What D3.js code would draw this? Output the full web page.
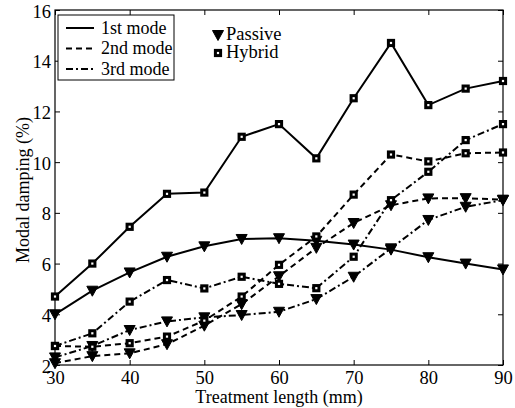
<!DOCTYPE html>
<html><head><meta charset="utf-8">
<script src="https://cdn.jsdelivr.net/npm/d3@7"></script>
<style>body{margin:0;background:#fff}svg{display:block}</style>
</head><body>
<svg id="c" width="515" height="408"></svg>
<script>
const lengths = [30,35,40,45,50,55,60,65,70,75,80,85,90];
const mode1Hybrid  = [4.7,6.0,7.45,8.75,8.8,11.0,11.5,10.15,12.52,14.7,12.25,12.9,13.2];
const mode1Passive = [4.0,4.93,5.65,6.27,6.68,6.97,7.0,6.9,6.75,6.55,6.25,6.0,5.77];
const mode2Hybrid  = [2.75,2.72,2.86,3.12,3.75,4.7,5.95,7.07,8.72,10.3,10.03,10.35,10.38];
const mode2Passive = [2.07,2.35,2.46,2.82,3.55,4.4,5.5,6.62,7.6,8.3,8.57,8.58,8.52];
const mode3Hybrid  = [2.75,3.25,4.5,5.35,5.02,5.48,5.2,5.03,6.27,8.5,9.62,10.87,11.5];
const mode3Passive = [2.3,2.75,3.38,3.72,3.88,3.97,4.1,4.6,5.48,6.6,7.72,8.24,8.5];
const xTicks = [30,40,50,60,70,80,90];
const yTicks = [2,4,6,8,10,12,14,16];
const modeNames = ["1st mode","2nd mode","3rd mode"];
const typeNames = ["Passive","Hybrid"];
const dashes = [null,"6,4","7,3,2,3"];
const FONT = '"Liberation Serif"';

const svg = d3.select("#c");
const L=55,R=503,T=10,B=365;
const x = d3.scaleLinear().domain([30,90]).range([L,R]);
const y = d3.scaleLinear().domain([2,16]).range([B,T]);

svg.append("rect").attr("x",L).attr("y",T).attr("width",R-L).attr("height",B-T)
  .attr("fill","none").attr("stroke","#000").attr("stroke-width",1.2);

const tl=5;
const gx=svg.append("g").attr("transform",`translate(0,${B})`)
  .call(d3.axisBottom(x).tickValues(xTicks).tickSize(-tl));
const gxt=svg.append("g").attr("transform",`translate(0,${T})`)
  .call(d3.axisTop(x).tickValues(xTicks).tickSize(-tl).tickFormat(""));
const gy=svg.append("g").attr("transform",`translate(${L},0)`)
  .call(d3.axisLeft(y).tickValues(yTicks).tickSize(-tl));
const gyr=svg.append("g").attr("transform",`translate(${R},0)`)
  .call(d3.axisRight(y).tickValues(yTicks).tickSize(-tl).tickFormat(""));
[gx,gxt,gy,gyr].forEach(g=>{g.select(".domain").remove();g.selectAll("line").attr("stroke","#000");});
[gx,gy].forEach(g=>g.selectAll("text").style("font-family",FONT).attr("font-size",18.5).attr("fill","#000"));
gx.selectAll("text").attr("y",19).attr("dy",0);
gy.selectAll("text").attr("x",-4).attr("dy","0.38em");

svg.append("text").attr("x",279).attr("y",403).attr("text-anchor","middle")
  .style("font-family",FONT).attr("font-size",18).attr("fill","#000").text("Treatment length (mm)");
svg.append("text").attr("transform",`translate(29,190) rotate(-90)`).attr("text-anchor","middle")
  .style("font-family",FONT).attr("font-size",18).attr("fill","#000").text("Modal damping (%)");

const series = [
  {v:mode1Passive,m:0,mk:"tri"},{v:mode2Passive,m:1,mk:"tri"},{v:mode3Passive,m:2,mk:"tri"},
  {v:mode1Hybrid,m:0,mk:"sq"},{v:mode2Hybrid,m:1,mk:"sq"},{v:mode3Hybrid,m:2,mk:"sq"}
];
const line = d3.line().x((d,i)=>x(lengths[i])).y(d=>y(d));
const triPath = "M-5.5,-4.5L5.5,-4.5L0,5.5Z";
function drawMarker(g,mk,cx,cy){
  if(mk==="tri") g.append("path").attr("d",triPath).attr("transform",`translate(${cx},${cy})`)
     .attr("fill","#000").attr("stroke","#000").attr("stroke-width",1);
  else g.append("rect").attr("x",cx-2.6).attr("y",cy-2.6).attr("width",5.2).attr("height",5.2)
     .attr("fill","#fff").attr("stroke","#000").attr("stroke-width",3);
}
series.forEach(s=>{
  svg.append("path").datum(s.v).attr("d",line).attr("fill","none").attr("stroke","#000")
    .attr("stroke-width",2).attr("stroke-dasharray",dashes[s.m]);
});
series.forEach(s=>{
  const g=svg.append("g");
  s.v.forEach((d,i)=>drawMarker(g,s.mk,x(lengths[i]),y(d)));
});

const lg=svg.append("g");
lg.append("rect").attr("x",58).attr("y",15).attr("width",116).attr("height",65)
  .attr("fill","#fff").attr("stroke","#000").attr("stroke-width",1);
modeNames.forEach((n,i)=>{
  const yy=28+i*20.5;
  lg.append("line").attr("x1",66).attr("x2",94).attr("y1",yy).attr("y2",yy)
    .attr("stroke","#000").attr("stroke-width",2).attr("stroke-dasharray",dashes[i]);
  lg.append("text").attr("x",101).attr("y",yy+5.5).style("font-family",FONT).attr("font-size",18).attr("fill","#000").text(n);
});
const lg2=svg.append("g");
typeNames.forEach((n,i)=>{
  const yy=35+i*18;
  drawMarker(lg2,i===0?"tri":"sq",218,yy);
  lg2.append("text").attr("x",226).attr("y",yy+5).style("font-family",FONT).attr("font-size",18.5).attr("fill","#000").text(n);
});
</script>
</body></html>
